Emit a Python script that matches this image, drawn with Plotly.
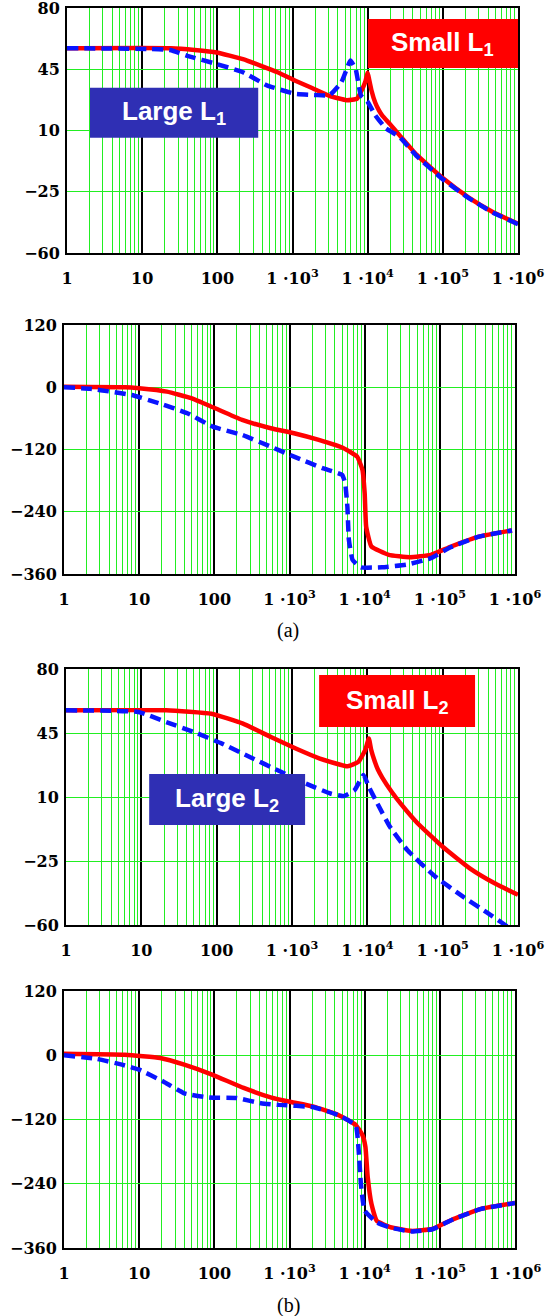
import plotly.graph_objects as go

# ---------------- data (frequency in Hz) ----------------
dec_vals = [1, 10, 100, 1000, 10000, 100000, 1000000]
dec_text = ["1", "10", "100", "1 ·10<sup>3</sup>", "1 ·10<sup>4</sup>",
            "1 ·10<sup>5</sup>", "1 ·10<sup>6</sup>"]
mag_ticks = [-60, -25, 10, 45, 80]
mag_text = ["−60", "−25", "10", "45", "80"]
ph_ticks = [-360, -240, -120, 0, 120]
ph_text = ["−360", "−240", "−120", "0", "120"]

# (a) magnitude, Small L1 (red solid)
f_mag_s1 = [1, 24, 50, 97.7, 218.8, 631, 1072, 1820, 3090, 5248, 7244, 8511, 9333,
            10000, 10471, 11220, 12589, 14125, 15488, 19953, 26303, 44668, 97724,
            218776, 467735, 1000000]
v_mag_s1 = [57, 57, 56, 54.6, 50.8, 43.3, 38.6, 34.3, 29.8, 27.3, 28.2, 33.9, 38,
            43, 39, 33, 26, 21.5, 18.8, 13.5, 7.5, -3.8, -16.9,
            -28.2, -36.7, -43.3]
# (a) magnitude, Large L1 (blue dashed)
f_mag_l1 = [1, 23.4, 39.8, 97.7, 218.8, 457.1, 1072, 1995, 3090, 4467, 5248, 5888,
            6918, 8128, 10000, 12589, 17378, 26303, 44668, 97724, 218776, 467735, 1000000]
v_mag_l1 = [57, 56, 52.7, 48, 43.3, 35.8, 31, 30.3, 30.1, 37.6, 45, 50,
            45.2, 30.1, 26.4, 18.8, 11.3, 6.5, -4.5, -17.5, -28.5, -37, -43.5]
# (a) phase, Small L1
f_ph_s1 = [1, 6.46, 10, 23.4, 49, 95.5, 234.4, 562.3, 1148, 2455, 5248, 7943, 9333,
           10000, 10471, 12303, 20893, 39811, 75858, 141254, 331131, 912011]
v_ph_s1 = [1, 0, -2, -8.5, -21, -38.6, -63, -79, -88.7, -101.6, -117.6, -133.8, -159,
           -204, -268.6, -307, -323, -327.6, -323, -307, -288, -276]
# (a) phase, Large L1
f_ph_l1 = [1, 2.24, 4.17, 7.94, 18.6, 43.7, 95.5, 234.4, 562.3, 1148, 2754, 5012, 5495,
           5888, 6166, 6918, 8913, 16982, 36308, 75858, 141254, 331131, 912011]
v_ph_l1 = [0, -3, -8.5, -15, -31, -50, -76, -92, -114.5, -133.8, -156, -169, -185,
           -230, -294, -333, -347, -347, -342, -329.5, -308, -288, -276]
# (b) magnitude, Small L2
f_mag_s2 = [1, 21.4, 85.1, 223.9, 524.8, 1122, 2344, 5495, 7586, 9333, 10471, 11220,
            12303, 13804, 15849, 20893, 27542, 46774, 100000, 229087, 489779, 1000000]
v_mag_s2 = [57.4, 57.4, 55.5, 50.1, 42.8, 36.5, 31, 26.8, 29.2, 35.5, 42, 36,
            30.5, 25, 20.5, 13, 6.5, -4.5, -17.2, -29, -37.2, -43.5]
# (b) magnitude, Large L2
f_mag_l2 = [1, 9.12, 21.4, 50.1, 117.5, 275.4, 645.7, 1514, 3236, 4898, 6761, 8913,
            10471, 12882, 19953, 33884, 79433, 186209, 398107, 676083, 1000000]
v_mag_l2 = [57.4, 56.5, 51, 45.5, 39.2, 31.9, 24.6, 17.4, 11.9, 10.5, 13.7, 22,
            15.5, 8.3, -6.3, -19, -33.5, -44.5, -53.5, -60, -65]
# (b) phase, Small L2
f_ph_s2 = [1, 6.46, 19.1, 39.8, 93.3, 245.5, 575.4, 977, 2089, 4467, 7586, 9333,
           10233, 10965, 12303, 14454, 21878, 41687, 79433, 151356, 354813, 1000000]
v_ph_s2 = [3, 1, -5, -17.5, -36, -61, -79, -86.5, -96, -111.5, -130, -149,
           -171, -227, -277.5, -309, -321, -328, -324.5, -306, -287, -276]
# (b) phase, Large L2
f_ph_l2 = [1, 2.75, 5.89, 10, 20.9, 39.8, 85.1, 199.5, 416.9, 724.4, 2089, 4467,
           7586, 8318, 8913, 10000, 14454, 21878, 41687, 79433, 151356, 354813, 1000000]
v_ph_l2 = [0, -7, -17.5, -27, -49, -71, -79, -80, -89.6, -92.7, -97, -112,
           -131, -177, -240, -290, -312, -322, -329, -325, -306, -287, -276]

minor_vals = [m * d for d in [1, 10, 100, 1000, 10000, 100000] for m in range(2, 10)]

# ---------------- layout geometry ----------------
W, H = 546, 1316
panels = [  # x0, x1, ytop, ybottom in px
    (67, 518, 8, 253),
    (64, 515, 325, 574),
    (66, 518, 669, 925),
    (64, 515, 991, 1248),
]

RED = "#ff0000"
BLUE = "#0a14ff"
GREEN = "#22ee22"
tickfont = dict(family="DejaVu Serif", size=16, color="black", weight="bold")

fig = go.Figure()

series = [
    (f_mag_s1, v_mag_s1, f_mag_l1, v_mag_l1),
    (f_ph_s1, v_ph_s1, f_ph_l1, v_ph_l1),
    (f_mag_s2, v_mag_s2, f_mag_l2, v_mag_l2),
    (f_ph_s2, v_ph_s2, f_ph_l2, v_ph_l2),
]

for i, (fs, vs, fl, vl) in enumerate(series):
    n = "" if i == 0 else str(i + 1)
    fig.add_trace(go.Scatter(x=fs, y=vs, mode="lines", xaxis="x" + n, yaxis="y" + n,
                             line=dict(color=RED, width=4.5, shape="spline", smoothing=0.4),
                             showlegend=False))
    fig.add_trace(go.Scatter(x=fl, y=vl, mode="lines", xaxis="x" + n, yaxis="y" + n,
                             line=dict(color=BLUE, width=4.5, dash="11px,6px",
                                       shape="spline", smoothing=0.4),
                             showlegend=False))

layout = dict(width=W, height=H, margin=dict(l=0, r=0, t=0, b=0, autoexpand=False),
              paper_bgcolor="white", plot_bgcolor="white", showlegend=False)

for i, (x0, x1, yt, yb) in enumerate(panels):
    n = "" if i == 0 else str(i + 1)
    is_mag = i in (0, 2)
    layout["xaxis" + n] = dict(
        type="log", range=[0, 6], domain=[x0 / W, x1 / W], anchor="y" + n,
        tickmode="array", tickvals=dec_vals, ticktext=dec_text, tickfont=tickfont,
        showgrid=True, gridcolor="black", gridwidth=1.5,
        minor=dict(tickmode="array", tickvals=minor_vals, showgrid=True,
                   gridcolor=GREEN, gridwidth=1, ticks=""),
        showline=True, mirror=True, linecolor="black", linewidth=2,
        ticks="", ticklabelstandoff=10, ticklabeloverflow="allow",
        zeroline=False, fixedrange=True, automargin=False)
    layout["yaxis" + n] = dict(
        range=[-60, 80] if is_mag else [-360, 120],
        domain=[1 - yb / H, 1 - yt / H], anchor="x" + n,
        tickmode="array", tickvals=mag_ticks if is_mag else ph_ticks,
        ticktext=mag_text if is_mag else ph_text, tickfont=tickfont,
        showgrid=True, gridcolor=GREEN, gridwidth=1,
        showline=True, mirror=True, linecolor="black", linewidth=2,
        ticks="", ticklabelstandoff=2, ticklabeloverflow="allow",
        zeroline=False, fixedrange=True, automargin=False)

fig.update_layout(**layout)

# label boxes (axis-domain fractions)
boxes = [
    ("x", "y", 0.667, 1.0, 0.755, 0.955, RED, "Small L<sub>1</sub>"),
    ("x", "y", 0.051, 0.424, 0.470, 0.674, "#2f2fb4", "Large L<sub>1</sub>"),
    ("x3", "y3", 0.560, 0.905, 0.773, 0.977, RED, "Small L<sub>2</sub>"),
    ("x3", "y3", 0.184, 0.529, 0.391, 0.590, "#2f2fb4", "Large L<sub>2</sub>"),
]
for xr, yr, bx0, bx1, by0, by1, col, txt in boxes:
    fig.add_shape(type="rect", xref=xr + " domain", yref=yr + " domain",
                  x0=bx0, x1=bx1, y0=by0, y1=by1, fillcolor=col,
                  line=dict(width=0), layer="above")
    fig.add_annotation(xref=xr + " domain", yref=yr + " domain",
                       x=(bx0 + bx1) / 2, y=(by0 + by1) / 2, text=txt, showarrow=False,
                       font=dict(family="Liberation Sans", size=26, color="white",
                                 weight="bold"),
                       xanchor="center", yanchor="middle")

for lab, yp in (("(a)", 630), ("(b)", 1305)):
    fig.add_annotation(xref="paper", yref="paper", x=288 / W, y=1 - yp / H, text=lab,
                       showarrow=False, xanchor="center", yanchor="middle",
                       font=dict(family="Liberation Serif", size=20, color="black"))

fig.write_html("out.html")
